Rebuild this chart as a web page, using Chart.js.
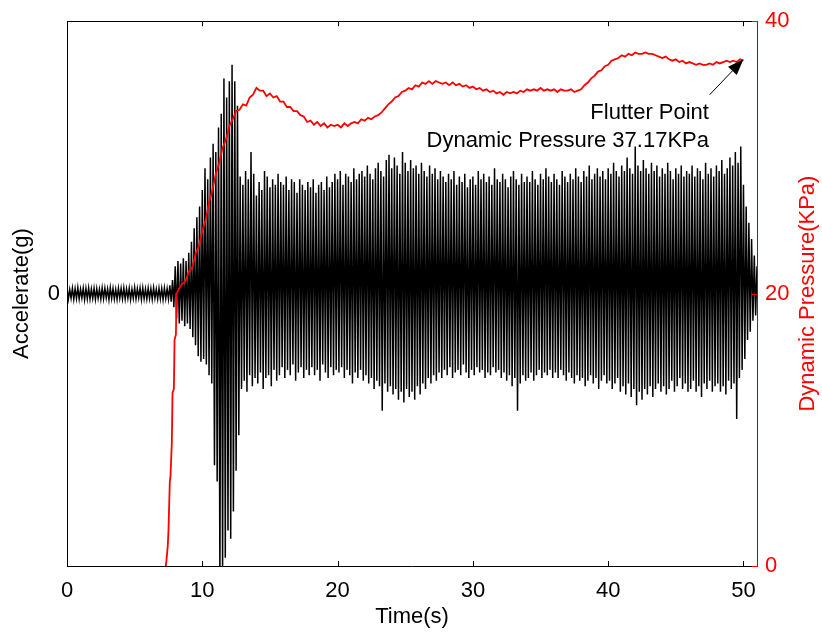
<!DOCTYPE html>
<html>
<head>
<meta charset="utf-8">
<script src="https://cdn.jsdelivr.net/npm/chart.js@4.4.1/dist/chart.umd.min.js"></script>
<style>
html, body { margin: 0; padding: 0; background: #fff; }
#wrap { width: 822px; height: 639px; position: relative; }
</style>
</head>
<body>
<div id="wrap"><canvas id="flutterChart"></canvas></div>
<script>
// acceleration signal, read as peak pairs: one top peak and one bottom peak per sample step
var accStep = 0.2;
var accTop = [
    0.02, 0.015, 0.02, 0.018, 0.022, 0.016, 0.02, 0.019, 0.021, 0.017,
    0.02, 0.018, 0.016, 0.021, 0.02, 0.017, 0.022, 0.019, 0.015, 0.02,
    0.019, 0.021, 0.017, 0.02, 0.016, 0.022, 0.018, 0.02, 0.021, 0.017,
    0.02, 0.018, 0.022, 0.016, 0.02, 0.019, 0.021, 0.018, 0.03, 0.05,
    0.1, 0.12, 0.11, 0.13, 0.12, 0.15, 0.19, 0.24, 0.28, 0.32,
    0.38, 0.46, 0.42, 0.5, 0.55, 0.52, 0.61, 0.66, 0.79, 0.72,
    0.78, 0.84, 0.78, 0.69, 0.43, 0.4, 0.45, 0.42, 0.52, 0.44,
    0.36, 0.41, 0.38, 0.45, 0.43, 0.39, 0.42, 0.4, 0.44, 0.41,
    0.4, 0.43, 0.38, 0.42, 0.41, 0.37, 0.42, 0.4, 0.38, 0.41,
    0.39, 0.42, 0.37, 0.4, 0.41, 0.38, 0.43, 0.39, 0.41, 0.44,
    0.42, 0.45, 0.4, 0.44, 0.43, 0.41, 0.46, 0.42, 0.44, 0.45,
    0.43, 0.47, 0.44, 0.42, 0.46, 0.48, 0.45, 0.43, 0.49, 0.51,
    0.46, 0.5, 0.47, 0.44, 0.52, 0.48, 0.45, 0.49, 0.46, 0.47,
    0.44, 0.48, 0.45, 0.43, 0.47, 0.44, 0.46, 0.42, 0.45, 0.43,
    0.41, 0.44, 0.42, 0.45, 0.4, 0.43, 0.41, 0.44, 0.39, 0.42,
    0.43, 0.4, 0.45, 0.42, 0.44, 0.41, 0.43, 0.4, 0.46, 0.42,
    0.41, 0.44, 0.42, 0.39, 0.43, 0.45, 0.42, 0.4, 0.44, 0.41,
    0.43, 0.41, 0.45, 0.42, 0.4, 0.44, 0.42, 0.46, 0.43, 0.41,
    0.44, 0.42, 0.4, 0.45, 0.43, 0.41, 0.44, 0.42, 0.46, 0.43,
    0.41, 0.45, 0.43, 0.47, 0.42, 0.44, 0.46, 0.43, 0.45, 0.42,
    0.46, 0.44, 0.48, 0.45, 0.43, 0.47, 0.45, 0.5, 0.46, 0.44,
    0.54, 0.47, 0.45, 0.49, 0.46, 0.44, 0.48, 0.45, 0.47, 0.43,
    0.46, 0.44, 0.48, 0.45, 0.42, 0.46, 0.44, 0.47, 0.43, 0.45,
    0.44, 0.47, 0.43, 0.46, 0.45, 0.42, 0.48, 0.44, 0.46, 0.43,
    0.47, 0.45, 0.49, 0.44, 0.46, 0.5, 0.47, 0.52, 0.48, 0.54,
    0.4, 0.32, 0.26, 0.2, 0.14, 0.1
];
var accBottom = [
    -0.02, -0.017, -0.021, -0.018, -0.02, -0.016, -0.022, -0.019, -0.02, -0.018,
    -0.021, -0.017, -0.02, -0.019, -0.016, -0.022, -0.018, -0.02, -0.021, -0.017,
    -0.019, -0.02, -0.017, -0.022, -0.018, -0.02, -0.016, -0.021, -0.019, -0.02,
    -0.018, -0.021, -0.017, -0.02, -0.019, -0.022, -0.018, -0.02, -0.03, -0.05,
    -0.09, -0.11, -0.1, -0.12, -0.11, -0.13, -0.16, -0.19, -0.23, -0.25,
    -0.24, -0.26, -0.3, -0.33, -0.63, -0.69, -1.05, -1.02, -0.97, -0.87,
    -0.9, -0.8, -0.65, -0.52, -0.35, -0.32, -0.36, -0.3, -0.34, -0.31,
    -0.33, -0.29, -0.35, -0.31, -0.3, -0.34, -0.28, -0.32, -0.3, -0.27,
    -0.31, -0.28, -0.3, -0.26, -0.32, -0.29, -0.27, -0.31, -0.28, -0.3,
    -0.27, -0.3, -0.28, -0.32, -0.26, -0.29, -0.31, -0.27, -0.3, -0.28,
    -0.29, -0.27, -0.31, -0.28, -0.3, -0.33, -0.29, -0.31, -0.28, -0.32,
    -0.3, -0.33, -0.31, -0.35, -0.32, -0.34, -0.43, -0.33, -0.36, -0.34,
    -0.37, -0.35, -0.39, -0.36, -0.4, -0.35, -0.38, -0.36, -0.39, -0.34,
    -0.37, -0.33, -0.35, -0.31, -0.33, -0.3, -0.32, -0.29, -0.31, -0.28,
    -0.3, -0.27, -0.31, -0.29, -0.28, -0.3, -0.26, -0.29, -0.31, -0.28,
    -0.3, -0.27, -0.29, -0.28, -0.31, -0.29, -0.3, -0.27, -0.29, -0.28,
    -0.31, -0.29, -0.32, -0.3, -0.34, -0.31, -0.43, -0.33, -0.3, -0.32,
    -0.31, -0.29, -0.32, -0.3, -0.28, -0.31, -0.29, -0.3, -0.28, -0.31,
    -0.29, -0.31, -0.28, -0.3, -0.32, -0.29, -0.31, -0.33, -0.3, -0.32,
    -0.31, -0.34, -0.32, -0.3, -0.33, -0.31, -0.35, -0.32, -0.3, -0.33,
    -0.32, -0.35, -0.33, -0.31, -0.36, -0.34, -0.37, -0.33, -0.38, -0.35,
    -0.41, -0.36, -0.39, -0.35, -0.37, -0.34, -0.38, -0.35, -0.33, -0.36,
    -0.34, -0.37, -0.35, -0.32, -0.36, -0.34, -0.31, -0.35, -0.33, -0.36,
    -0.35, -0.32, -0.36, -0.34, -0.38, -0.33, -0.35, -0.32, -0.36, -0.34,
    -0.33, -0.36, -0.34, -0.37, -0.32, -0.35, -0.33, -0.46, -0.31, -0.28,
    -0.24, -0.17, -0.14, -0.1, -0.08, -0.06
];

// dynamic pressure (KPa): the steep ramp, then a regular sampling
var riseTime = [7.3, 7.35, 7.45, 7.5, 7.6, 7.65, 7.75, 7.8, 7.9, 7.95, 8.05, 8.1];
var riseValue = [0, 0.4, 1.5, 2.6, 6.2, 6.6, 9.1, 12.7, 13.0, 16.6, 17.0, 20.0];
var presStart = 8.25;
var presStep = 0.25;
var presValue = [
    20.3, 20.7, 20.9, 21.6, 21.9, 22.9, 23.5, 24.6, 25.4, 26.7,
    27.6, 28.8, 29.6, 30.7, 31.3, 32.3, 32.8, 33.4, 33.5, 33.9,
    33.8, 34.4, 34.6, 35.1, 34.9, 34.9, 34.5, 34.7, 34.4, 34.5,
    34.1, 34.1, 33.7, 33.7, 33.4, 33.4, 33.1, 33.0, 32.6, 32.7,
    32.4, 32.6, 32.3, 32.5, 32.2, 32.4, 32.3, 32.4, 32.2, 32.5,
    32.3, 32.5, 32.6, 32.5, 32.8, 32.7, 32.9, 32.8, 33.0, 33.1,
    33.3, 33.6, 33.9, 34.1, 34.4, 34.5, 34.8, 34.9, 35.1, 35.0,
    35.3, 35.2, 35.5, 35.4, 35.6, 35.4, 35.6, 35.5, 35.4, 35.5,
    35.3, 35.5, 35.3, 35.4, 35.2, 35.3, 35.1, 35.2, 35.0, 35.1,
    34.9, 35.0, 34.8, 34.9, 34.7, 34.8, 34.6, 34.8, 34.7, 34.8,
    34.7, 34.9, 34.8, 35.0, 34.9, 35.0, 34.9, 35.1, 34.9, 35.0,
    34.9, 35.0, 34.8, 35.0, 34.9, 34.9, 35.0, 34.8, 34.9, 35.0,
    35.3, 35.5, 35.8, 36.0, 36.3, 36.4, 36.7, 36.8, 37.1, 37.2,
    37.3, 37.5, 37.4, 37.6, 37.5, 37.7, 37.6, 37.6, 37.7, 37.6,
    37.6, 37.5, 37.4, 37.3, 37.4, 37.2, 37.1, 37.2, 37.0, 37.1,
    36.9, 37.0, 36.9, 36.8, 36.9, 36.8, 36.8, 36.9, 36.8, 37.0,
    36.9, 37.0, 37.1, 37.0, 37.1, 37.0, 37.2, 37.1
];

// axis ticks
var timeTicks = [0, 10, 20, 30, 40, 50];
var accTicks = [-1, 0, 1];
var presTicks = [0, 20, 40];

// flutter annotation (time s, pressure KPa)
var flutterLabel = ['Flutter Point', 'Dynamic Pressure 37.17KPa'];
var flutterArrow = { fromX: 47.5, fromY: 34.6, toX: 50.0, toY: 37.2 };
var flutterTextAt = { x: 47.45, y: [32.85, 30.8] };

var fontFamily = '"Liberation Sans", Arial, Helvetica, sans-serif';
Chart.defaults.font.family = fontFamily;

function buildAccPoints() {
    var pts = [];
    for (var i = 0; i < accTop.length; i++) {
        pts.push({ x: i * accStep, y: accTop[i] });
        pts.push({ x: i * accStep + accStep / 2, y: accBottom[i] });
    }
    return pts;
}

function buildPresPoints() {
    var pts = [];
    for (var i = 0; i < riseTime.length; i++) {
        pts.push({ x: riseTime[i], y: riseValue[i] });
    }
    for (var j = 0; j < presValue.length; j++) {
        pts.push({ x: presStart + j * presStep, y: presValue[j] });
    }
    return pts;
}

function px(v) { return Math.round(v) + 0.5; }

var framePlugin = {
    id: 'frame',
    afterDraw: function (chart) {
        var ctx = chart.ctx;
        var area = chart.chartArea;
        var sx = chart.scales.x, sy = chart.scales.y, sr = chart.scales.y1;
        var tick = 5;

        ctx.save();
        ctx.lineWidth = 1;
        ctx.strokeStyle = '#000';
        ctx.beginPath();
        // top edge of the box
        ctx.moveTo(area.left, px(area.top));
        ctx.lineTo(area.right, px(area.top));
        timeTicks.forEach(function (t) {
            var x = px(sx.getPixelForValue(t));
            ctx.moveTo(x, area.bottom);
            ctx.lineTo(x, area.bottom - tick);
            ctx.moveTo(x, area.top);
            ctx.lineTo(x, area.top + tick);
        });
        accTicks.forEach(function (v) {
            var y = px(sy.getPixelForValue(v));
            ctx.moveTo(area.left, y);
            ctx.lineTo(area.left + tick, y);
        });
        ctx.stroke();

        ctx.strokeStyle = '#ff0000';
        ctx.beginPath();
        presTicks.forEach(function (v) {
            var y = px(sr.getPixelForValue(v));
            ctx.moveTo(area.right, y);
            ctx.lineTo(area.right - tick, y);
        });
        ctx.stroke();

        // right axis title, reading bottom to top
        ctx.fillStyle = '#ff0000';
        ctx.font = '22px ' + fontFamily;
        ctx.textAlign = 'center';
        ctx.textBaseline = 'middle';
        ctx.translate(808, (area.top + area.bottom) / 2);
        ctx.rotate(-Math.PI / 2);
        ctx.fillText('Dynamic Pressure(KPa)', 0, 0);
        ctx.restore();

        // annotation
        ctx.save();
        ctx.fillStyle = '#000';
        ctx.strokeStyle = '#000';
        ctx.font = '22px ' + fontFamily;
        ctx.textAlign = 'right';
        ctx.textBaseline = 'alphabetic';
        var tx = sx.getPixelForValue(flutterTextAt.x);
        for (var k = 0; k < flutterLabel.length; k++) {
            ctx.fillText(flutterLabel[k], tx, sr.getPixelForValue(flutterTextAt.y[k]));
        }
        var x0 = sx.getPixelForValue(flutterArrow.fromX), y0 = sr.getPixelForValue(flutterArrow.fromY);
        var x1 = sx.getPixelForValue(flutterArrow.toX), y1 = sr.getPixelForValue(flutterArrow.toY);
        var ang = Math.atan2(y1 - y0, x1 - x0);
        var headLen = 16, headHalf = 6;
        ctx.lineWidth = 1;
        ctx.beginPath();
        ctx.moveTo(x0, y0);
        ctx.lineTo(x1 - Math.cos(ang) * headLen, y1 - Math.sin(ang) * headLen);
        ctx.stroke();
        ctx.beginPath();
        ctx.moveTo(x1, y1);
        ctx.lineTo(x1 - Math.cos(ang) * headLen - Math.sin(ang) * headHalf,
                   y1 - Math.sin(ang) * headLen + Math.cos(ang) * headHalf);
        ctx.lineTo(x1 - Math.cos(ang) * headLen + Math.sin(ang) * headHalf,
                   y1 - Math.sin(ang) * headLen - Math.cos(ang) * headHalf);
        ctx.closePath();
        ctx.fill();
        ctx.restore();
    }
};

var chartConfig = {
    type: 'line',
    data: {
        datasets: [
            {
                label: 'Dynamic Pressure',
                data: buildPresPoints(),
                yAxisID: 'y1',
                borderColor: '#ff0000',
                borderWidth: 1.8,
                pointRadius: 0,
                tension: 0,
                fill: false
            },
            {
                label: 'Accelerate',
                data: buildAccPoints(),
                yAxisID: 'y',
                borderColor: '#000000',
                borderWidth: 1.5,
                pointRadius: 0,
                tension: 0,
                fill: false
            }
        ]
    },
    options: {
        responsive: true,
        maintainAspectRatio: false,
        devicePixelRatio: 1,
        animation: false,
        events: [],
        layout: { padding: { top: 13, left: 0, right: 0, bottom: 0 } },
        plugins: {
            legend: { display: false },
            tooltip: { enabled: false }
        },
        scales: {
            x: {
                type: 'linear',
                min: 0,
                max: 51,
                afterFit: function (scale) { scale.height = 73; },
                grid: { display: true, drawOnChartArea: false, drawTicks: false },
                border: { display: true, color: '#000', width: 1 },
                ticks: {
                    stepSize: 10,
                    includeBounds: false,
                    maxRotation: 0,
                    padding: 12,
                    color: '#000',
                    font: { size: 22 }
                },
                title: {
                    display: true,
                    text: 'Time(s)',
                    color: '#000',
                    font: { size: 22 },
                    padding: { top: 0, bottom: 9 }
                }
            },
            y: {
                type: 'linear',
                position: 'left',
                min: -1,
                max: 1,
                afterFit: function (scale) { scale.width = 67; },
                grid: { display: true, drawOnChartArea: false, drawTicks: false },
                border: { display: true, color: '#000', width: 1 },
                ticks: {
                    stepSize: 1,
                    padding: 7,
                    color: '#000',
                    font: { size: 22 },
                    callback: function (v) { return v === 0 ? '0' : ''; }
                },
                title: {
                    display: true,
                    text: 'Accelerate(g)',
                    color: '#000',
                    font: { size: 22 },
                    padding: { top: 9, bottom: 0 }
                }
            },
            y1: {
                type: 'linear',
                position: 'right',
                min: 0,
                max: 40,
                afterFit: function (scale) { scale.width = 65; },
                grid: { display: true, drawOnChartArea: false, drawTicks: false },
                border: { display: true, color: '#c00000', width: 1 },
                ticks: {
                    stepSize: 20,
                    padding: 8,
                    color: '#ff0000',
                    font: { size: 22 }
                }
            }
        }
    },
    plugins: [framePlugin]
};

var flutterChart = new Chart(document.getElementById('flutterChart'), chartConfig);
</script>
</body>
</html>
